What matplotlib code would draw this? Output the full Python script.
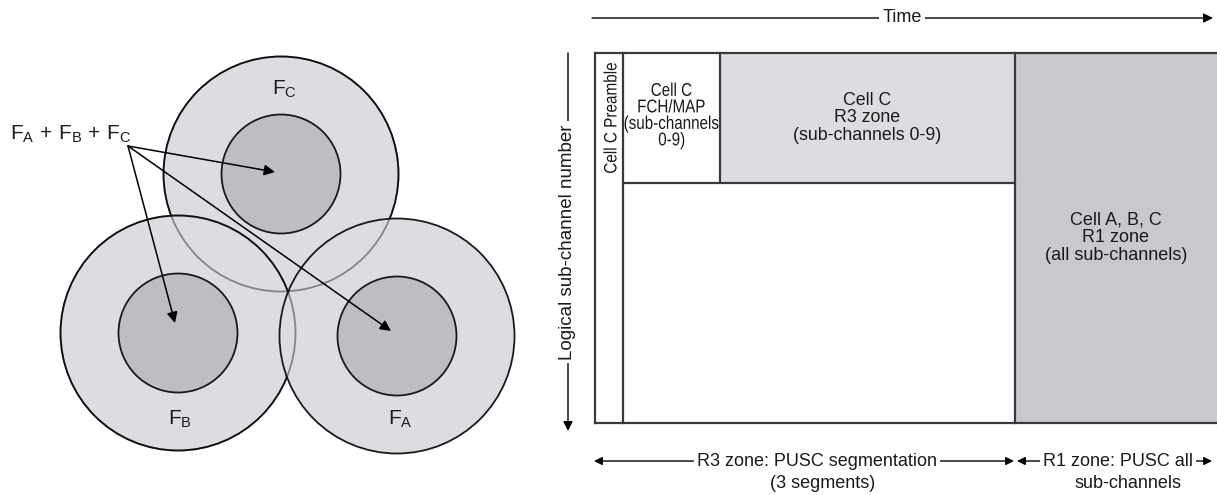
import matplotlib
matplotlib.use("Agg")
import numpy as np
import matplotlib.pyplot as plt
from matplotlib.patches import Circle, Rectangle, PathPatch
from matplotlib.textpath import TextPath
from matplotlib.font_manager import FontProperties
from matplotlib.transforms import Affine2D
from matplotlib import font_manager

# ---------------- data ----------------
cell_names = ["C", "B", "A"]                 # drawing order
cell_cx = [281, 178, 397]
cell_cy = [174, 333, 336]
outer_r = 117.5
inner_r = 59.5
cell_label_x = [272, 168, 388]
cell_label_y = [95, 425, 425]

combo_label = r"$\mathrm{F_A\,+\,F_B\,+\,F_C}$"
combo_origin = (128, 146)
arrow_tips = [(275, 172), (175, 323), (391, 331)]

zone_x = [595, 623, 720, 1015, 1222]         # column boundaries (time axis)
frame_top, header_bottom, frame_bottom = 53, 183, 423

preamble_text = "Cell C Preamble"
fch_lines = ["Cell C", "FCH/MAP", "(sub-channels", "0-9)"]
r3_text = "Cell C\nR3 zone\n(sub-channels 0-9)"
r1_text = "Cell A, B, C\nR1 zone\n(all sub-channels)"
time_label = "Time"
y_label = "Logical sub-channel number"
r3_bottom = ["R3 zone: PUSC segmentation", "(3 segments)"]
r1_bottom = ["R1 zone: PUSC all", "sub-channels"]

# ---------------- style ----------------
avail = {f.name for f in font_manager.fontManager.ttflist}
base_font = "Liberation Sans" if "Liberation Sans" in avail else "DejaVu Sans"
plt.rcParams["font.family"] = [base_font, "DejaVu Sans"]
plt.rcParams["mathtext.fontset"] = "custom"
plt.rcParams["mathtext.rm"] = base_font
plt.rcParams["mathtext.it"] = base_font

outer_fill = "#dcdde0"
inner_fill = "#bdbec2"
r1_fill = "#c8c9cc"
r3_fill = "#dcdde0"
edge = "#1a1a1a"
frame_col = "#3a3a3a"
txt_col = "#1a1a1a"

fig = plt.figure(figsize=(12.17, 4.95), dpi=100)
ax = fig.add_axes([0, 0, 1, 1])
ax.set_xlim(0, 1217)
ax.set_ylim(495, 0)
ax.axis("off")

fp_base = FontProperties(family=base_font)


def squeezed_line(x, y, s, size_px, sx, rotate=False):
    """Draw one line of horizontally condensed text centred at (x, y) (pixel coords, y down)."""
    tp = TextPath((0, 0), s, size=size_px, prop=fp_base)
    ext = tp.get_extents()
    uc = ext.x0 + ext.width / 2
    vc = 0.716 * size_px / 2
    t = Affine2D().translate(-uc, -vc).scale(sx, 1)
    if rotate:
        t = t + Affine2D(np.array([[0, -1, 0], [-1, 0, 0], [0, 0, 1]], float))
    else:
        t = t + Affine2D().scale(1, -1)
    t = t + Affine2D().translate(x, y)
    path = t.transform_path(tp)
    ax.add_patch(PathPatch(path, facecolor=txt_col, edgecolor="none", lw=0, zorder=5))


# ---------------- left: cells ----------------
z = 1
for i, name in enumerate(cell_names):
    cx, cy = cell_cx[i], cell_cy[i]
    ax.add_patch(Circle((cx, cy), outer_r, facecolor=outer_fill, edgecolor="none", zorder=z))
    ax.add_patch(Circle((cx, cy), outer_r, facecolor="none", edgecolor=edge, lw=1.3, zorder=z + 0.1))
    ax.add_patch(Circle((cx, cy), inner_r, facecolor=inner_fill, edgecolor=edge, lw=1.3, zorder=z + 0.2))
    z += 1
for i in range(len(cell_names) - 1):
    ax.add_patch(Circle((cell_cx[i], cell_cy[i]), outer_r, facecolor="none",
                        edgecolor="black", alpha=0.4, lw=1.3, zorder=10))

for i, name in enumerate(cell_names):
    ax.text(cell_label_x[i], cell_label_y[i], r"$\mathrm{F_%s}$" % name, fontsize=15,
            ha="left", va="baseline", color=txt_col, zorder=20)

ax.text(10, 140, combo_label, fontsize=15, ha="left", va="baseline", color=txt_col, zorder=20)
for tip in arrow_tips:
    ax.annotate("", xy=tip, xytext=combo_origin,
                arrowprops=dict(arrowstyle="-|>", color="black", lw=1.1,
                                mutation_scale=16, shrinkA=0, shrinkB=0),
                zorder=15)

# ---------------- right: frame ----------------
lw_f = 1.6
ax.add_patch(Rectangle((zone_x[2], frame_top), zone_x[3] - zone_x[2], header_bottom - frame_top,
                       facecolor=r3_fill, edgecolor="none", zorder=1))
ax.add_patch(Rectangle((zone_x[3], frame_top), zone_x[4] - zone_x[3], frame_bottom - frame_top,
                       facecolor=r1_fill, edgecolor="none", zorder=1))
ax.plot([zone_x[0], zone_x[4]], [frame_top, frame_top], color=frame_col, lw=lw_f, zorder=3)
ax.plot([zone_x[0], zone_x[4]], [frame_bottom, frame_bottom], color=frame_col, lw=lw_f, zorder=3)
ax.plot([zone_x[0], zone_x[0]], [frame_top, frame_bottom], color=frame_col, lw=lw_f, zorder=3)
ax.plot([zone_x[1], zone_x[1]], [frame_top, frame_bottom], color=frame_col, lw=lw_f, zorder=3)
ax.plot([zone_x[2], zone_x[2]], [frame_top, header_bottom], color=frame_col, lw=lw_f, zorder=3)
ax.plot([zone_x[3], zone_x[3]], [frame_top, frame_bottom], color=frame_col, lw=lw_f, zorder=3)
ax.plot([zone_x[1], zone_x[3]], [header_bottom, header_bottom], color=frame_col, lw=lw_f, zorder=3)

# condensed texts in the narrow columns
squeezed_line(610, (frame_top + header_bottom) / 2, preamble_text, 18, 0.85, rotate=True)
fch_cx = (zone_x[1] + zone_x[2]) / 2
fch_cy = (frame_top + header_bottom) / 2 - 4
for k, line in enumerate(fch_lines):
    squeezed_line(fch_cx, fch_cy + (k - (len(fch_lines) - 1) / 2) * 16.5, line, 18.5, 0.82)

ax.text((zone_x[2] + zone_x[3]) / 2, (frame_top + header_bottom) / 2, r3_text,
        ha="center", va="center", fontsize=12.8, linespacing=1.06, color=txt_col, zorder=5)
ax.text((zone_x[3] + 1217) / 2, (frame_top + frame_bottom) / 2, r1_text,
        ha="center", va="center", fontsize=13, linespacing=1.06, color=txt_col, zorder=5)

# ---------------- axes arrows ----------------
arrow_kw = dict(arrowstyle="-|>", color="black", lw=1.0, mutation_scale=14, shrinkA=0, shrinkB=0)
bbox_w = dict(facecolor="white", edgecolor="none", pad=2.5)

ax.annotate("", xy=(1213, 18), xytext=(592, 18), arrowprops=arrow_kw, zorder=4)
ax.text(902, 18, time_label, ha="center", va="center", fontsize=13, color=txt_col,
        bbox=bbox_w, zorder=6)

ax.annotate("", xy=(568, 431), xytext=(568, 53), arrowprops=arrow_kw, zorder=4)
ax.text(568, 242, y_label, rotation=90, ha="center", va="center", fontsize=13.5,
        color=txt_col, bbox=bbox_w, zorder=6)

both_kw = dict(arrowstyle="<|-|>", color="black", lw=1.0, mutation_scale=12, shrinkA=0, shrinkB=0)
ax.annotate("", xy=(1014, 461), xytext=(594, 461), arrowprops=both_kw, zorder=4)
ax.text(817, 461, r3_bottom[0], ha="center", va="center", fontsize=13, color=txt_col,
        bbox=bbox_w, zorder=6)
ax.text(823, 484, r3_bottom[1], ha="center", va="center", fontsize=13, color=txt_col, zorder=6)

ax.annotate("", xy=(1212, 461), xytext=(1017, 461), arrowprops=both_kw, zorder=4)
ax.text(1118, 461, r1_bottom[0], ha="center", va="center", fontsize=13, color=txt_col,
        bbox=bbox_w, zorder=6)
ax.text(1128, 484, r1_bottom[1], ha="center", va="center", fontsize=13, color=txt_col, zorder=6)

fig.savefig("out.png", dpi=100, facecolor="white")
